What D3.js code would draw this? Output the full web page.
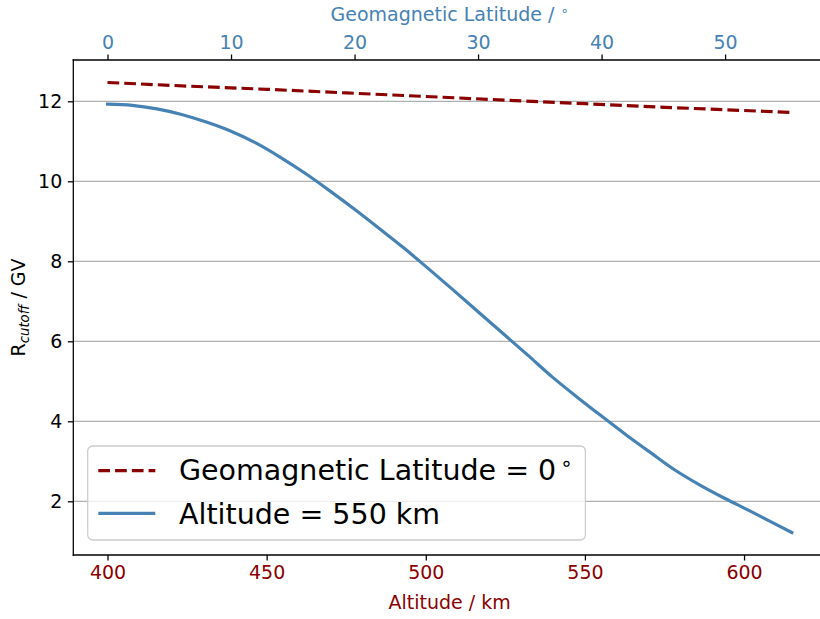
<!DOCTYPE html>
<html>
<head>
<meta charset="utf-8">
<script src="https://cdn.jsdelivr.net/npm/d3@7"></script>
<style>
  html, body { margin: 0; padding: 0; background: #fff; }
  svg { display: block; font-family: "DejaVu Sans", sans-serif; }
</style>
</head>
<body>
<svg id="chart" width="820" height="619"></svg>
<script>
// ---- data ----
// Dashed red: cutoff rigidity vs altitude at geomagnetic latitude 0°
const altitudeKm    = [400, 425, 450, 475, 500, 525, 550, 575, 600, 615];
const rcutAtEquator = [12.47, 12.38, 12.30, 12.21, 12.12, 12.03, 11.94, 11.85, 11.77, 11.72];

// Solid blue: cutoff rigidity vs geomagnetic latitude at altitude 550 km
const latitudeDeg = [0, 2, 4, 6, 8, 10, 12, 14, 16, 18, 20, 22, 24, 26, 28, 30, 32, 34, 36, 38, 40, 42, 44, 46, 48, 50, 52, 54, 55.4];
const rcutAt550   = [11.93, 11.90, 11.81, 11.67, 11.48, 11.25, 10.96, 10.60, 10.20, 9.76, 9.30, 8.82, 8.33, 7.81, 7.28, 6.74, 6.20, 5.66, 5.11, 4.61, 4.13, 3.66, 3.21, 2.77, 2.40, 2.07, 1.76, 1.44, 1.22];

const yTicks   = [2, 4, 6, 8, 10, 12];
const altTicks = [400, 450, 500, 550, 600];
const latTicks = [0, 10, 20, 30, 40, 50];

const legendLabels = ["Geomagnetic Latitude = 0", "Altitude = 550 km"];

// ---- layout ----
const svg = d3.select("#chart");
const L = 73.3, T = 60, R = 826, B = 555;
const RED = "#8b0000", BLUE = "#4682b4";
const FS = 19, LFS = 28.5;

function padded(arr) {
  const [a, b] = d3.extent(arr);
  const m = (b - a) * 0.05;
  return [a - m, b + m];
}

const xAlt = d3.scaleLinear().domain(padded(altitudeKm)).range([L, R]);
const xLat = d3.scaleLinear().domain(padded(latitudeDeg)).range([L, R]);
const y = d3.scaleLinear().domain(padded(rcutAt550.concat(rcutAtEquator))).range([B, T]);

// grid
svg.append("g").selectAll("line").data(yTicks).join("line")
  .attr("x1", L).attr("x2", R)
  .attr("y1", d => y(d)).attr("y2", d => y(d))
  .attr("stroke", "#b0b0b0").attr("stroke-width", 1.27);

// lines
const lineAlt = d3.line().x((d, i) => xAlt(altitudeKm[i])).y(d => y(d));
const lineLat = d3.line().x((d, i) => xLat(latitudeDeg[i])).y(d => y(d)).curve(d3.curveMonotoneX);

svg.append("path").datum(rcutAtEquator).attr("d", lineAlt)
  .attr("fill", "none").attr("stroke", RED).attr("stroke-width", 3.17)
  .attr("stroke-dasharray", "11.7,5.07");

svg.append("path").datum(rcutAt550).attr("d", lineLat)
  .attr("fill", "none").attr("stroke", BLUE).attr("stroke-width", 3.17)
  .attr("stroke-linecap", "square").attr("stroke-linejoin", "round");

// axes
function styleAxis(g, color) {
  g.select(".domain").remove();
  g.selectAll(".tick line").attr("stroke", "#000").attr("stroke-width", 1.27);
  g.selectAll(".tick text").attr("fill", color).attr("font-size", FS)
    .attr("font-family", "DejaVu Sans");
}

const gBottom = svg.append("g").attr("transform", `translate(0,${B})`)
  .call(d3.axisBottom(xAlt).tickValues(altTicks).tickSize(5.5).tickPadding(5.5).tickFormat(d3.format("d")));
styleAxis(gBottom, RED);

const gTop = svg.append("g").attr("transform", `translate(0,${T})`)
  .call(d3.axisTop(xLat).tickValues(latTicks).tickSize(5.5).tickPadding(5.5).tickFormat(d3.format("d")));
styleAxis(gTop, BLUE);

const gLeft = svg.append("g").attr("transform", `translate(${L},0)`)
  .call(d3.axisLeft(y).tickValues(yTicks).tickSize(5.5).tickPadding(5.5).tickFormat(d3.format("d")));
styleAxis(gLeft, "#000");
gLeft.selectAll(".tick text").attr("dy", "0.35em");

// spines (left, top, bottom; right lies just outside the view)
svg.append("line").attr("x1", L).attr("x2", L).attr("y1", T).attr("y2", B)
  .attr("stroke", "#000").attr("stroke-width", 1.27).attr("stroke-linecap", "square");
svg.append("line").attr("x1", L).attr("x2", R).attr("y1", T).attr("y2", T)
  .attr("stroke", "#000").attr("stroke-width", 1.27).attr("stroke-linecap", "square");
svg.append("line").attr("x1", L).attr("x2", R).attr("y1", B).attr("y2", B)
  .attr("stroke", "#000").attr("stroke-width", 1.27).attr("stroke-linecap", "square");
svg.append("line").attr("x1", R).attr("x2", R).attr("y1", T).attr("y2", B)
  .attr("stroke", "#000").attr("stroke-width", 1.27);

// axis labels
svg.append("text").attr("x", (L + R) / 2).attr("y", 609)
  .attr("text-anchor", "middle").attr("font-size", FS).attr("fill", RED)
  .text("Altitude / km");

const topLab = svg.append("text").attr("x", (L + R) / 2).attr("y", 20.5)
  .attr("text-anchor", "middle").attr("font-size", FS).attr("fill", BLUE);
topLab.append("tspan").text("Geomagnetic Latitude / ");
topLab.append("tspan").attr("font-size", FS * 0.7).attr("dy", -6).text("\u2218");

const yLab = svg.append("text")
  .attr("transform", `translate(25,${(T + B) / 2}) rotate(-90)`)
  .attr("text-anchor", "middle").attr("font-size", FS).attr("fill", "#000");
yLab.append("tspan").text("R");
yLab.append("tspan").attr("font-size", FS * 0.7).attr("font-style", "italic").attr("dy", 3.5).text("cutoff");
yLab.append("tspan").attr("dy", -3.5).text(" / GV");

// legend
const lg = svg.append("g");
lg.append("rect").attr("x", 87.7).attr("y", 446).attr("width", 497.7).attr("height", 94)
  .attr("rx", 5).attr("ry", 5)
  .attr("fill", "#fff").attr("fill-opacity", 0.8)
  .attr("stroke", "#cccccc").attr("stroke-width", 1.27);

const rows = [
  { color: RED, dash: "11.7,5.07", ty: 479.5, ly: 470.7 },
  { color: BLUE, dash: null, ty: 523.5, ly: 513.3 }
];
rows.forEach((r, i) => {
  lg.append("line").attr("x1", 98.3).attr("x2", 155.3).attr("y1", r.ly).attr("y2", r.ly)
    .attr("stroke", r.color).attr("stroke-width", 3.17)
    .attr("stroke-dasharray", r.dash);
  const t = lg.append("text").attr("x", 179).attr("y", r.ty)
    .attr("font-size", LFS).attr("fill", "#000");
  t.append("tspan").text(legendLabels[i]);
  if (i === 0) {
    t.append("tspan").attr("dx", 4).attr("dy", -10).attr("font-size", LFS * 0.7).text("\u2218");
  }
});
</script>
</body>
</html>
